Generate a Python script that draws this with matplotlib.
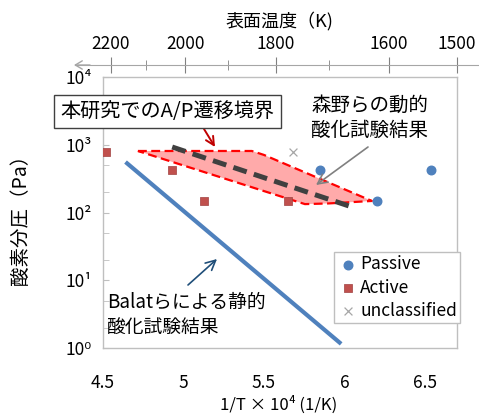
import matplotlib
matplotlib.use("Agg")
import matplotlib.pyplot as plt
import numpy as np

plt.rcParams['font.family'] = ['Noto Sans CJK JP', 'DejaVu Sans']

W, H = 479, 418

# ---- data ----
passive_x = [5.85, 6.20, 6.54]
passive_y = [420, 150, 420]
active_x = [4.52, 4.93, 5.13, 5.65]
active_y = [780, 420, 150, 150]
uncl_x = [5.68]
uncl_y = [780]
balat_x = [4.64, 5.98]
balat_y = [556, 1.15]
boundary_x = [4.93, 6.05]
boundary_y = [926, 120]
morino_x = [4.717, 5.425, 5.50, 6.171, 5.90, 5.755, 4.717]
morino_y = [809, 809, 708, 148, 136, 133, 809]
top_temps = [2200, 2000, 1800, 1600, 1500]
top_minor = [2100, 1900, 1700]
y_ticks = [1, 10, 100, 1000, 10000]
y_ticklabels = ['10⁰', '10¹', '10²', '10³', '10⁴']
x_ticks = [4.5, 5, 5.5, 6, 6.5]
x_ticklabels = ['4.5', '5', '5.5', '6', '6.5']

def fx(x):
    return x / W

def fy(y):
    return 1 - y / H

def fp(x, y):
    return (x, H - y)

fig = plt.figure(figsize=(W / 100, H / 100), dpi=100)
L, R, T, B = 103, 457, 77, 348
ax = fig.add_axes([fx(L), fy(B), (R - L) / W, (B - T) / H])
ax.set_xlim(4.5, 6.7)
ax.set_yscale('log')
ax.set_ylim(1, 10000)

grey = '#BFBFBF'
for s in ax.spines.values():
    s.set_color(grey)
    s.set_linewidth(1.0)

ax.set_xticks(x_ticks)
ax.set_xticklabels(x_ticklabels, fontsize=12.5)
ax.tick_params(axis='x', length=0, pad=19)
ax.set_yticks(y_ticks)
ax.set_yticklabels(y_ticklabels, fontsize=12.5)
ax.yaxis.set_minor_locator(matplotlib.ticker.LogLocator(base=10, subs=[2, 5]))
ax.yaxis.set_minor_formatter(matplotlib.ticker.NullFormatter())
ax.tick_params(axis='y', which='both', direction='in', length=4, color=grey, pad=8)

# Morino region
ax.fill(morino_x, morino_y, facecolor='#FFAAAA', edgecolor='none', zorder=1)
ax.plot(morino_x, morino_y, color='#FF0000', lw=1.6, dashes=(4, 2), zorder=2)
# boundary of this study
ax.plot(boundary_x, boundary_y, color='#404040', lw=3.6, dashes=(2.8, 1.5), zorder=3)
# Balat line
ax.plot(balat_x, balat_y, color='#4F81BD', lw=3.0, solid_capstyle='butt', zorder=3)

ax.scatter(passive_x, passive_y, s=38, marker='o', color='#4F81BD', zorder=4, label='Passive')
ax.scatter(active_x, active_y, s=38, marker='s', color='#C0504D', edgecolor='#A04040',
           linewidth=0.5, zorder=4, label='Active')
ax.scatter(uncl_x, uncl_y, s=32, marker='x', color='#A6A6A6', linewidth=0.9, zorder=4,
           label='unclassified')

leg = ax.legend(loc='upper left', bbox_to_anchor=(fx(334), fy(252)),
                bbox_transform=fig.transFigure, fontsize=12.5, frameon=True,
                fancybox=False, edgecolor=grey, framealpha=1, handletextpad=0.1,
                handlelength=1.2, labelspacing=0.3, borderpad=0.2, borderaxespad=0)
leg.get_frame().set_linewidth(1.0)

# top temperature axis
axt = fig.add_axes([fx(75), fy(65), (479 - 75) / W, 0.0001])
slope = (457 - 111) / (1e4 / 1500 - 1e4 / 2200)
x0 = 1e4 / 2200 + (75 - 111) / slope
x1 = 1e4 / 2200 + (479 - 111) / slope
axt.set_xlim(x0, x1)
axt.set_yticks([])
for k in ['left', 'right', 'bottom']:
    axt.spines[k].set_visible(False)
axt.spines['top'].set_color('#A6A6A6')
axt.patch.set_visible(False)
axt.xaxis.set_ticks_position('top')
axt.set_xticks([1e4 / t for t in top_temps])
axt.set_xticklabels([str(t) for t in top_temps], fontsize=12.5)
axt.set_xticks([1e4 / t for t in top_minor], minor=True)
axt.tick_params(axis='x', which='major', direction='inout', length=11, color='#808080', pad=3)
axt.tick_params(axis='x', which='minor', direction='inout', length=7, color='#808080')

def arrow(p0, p1, color, lw, hl, hw):
    ax.annotate('', xy=fp(*p1), xytext=fp(*p0), xycoords='figure pixels',
                textcoords='figure pixels', annotation_clip=False, zorder=20,
                arrowprops=dict(arrowstyle='->,head_length=%g,head_width=%g' % (hl, hw),
                                color=color, lw=lw, shrinkA=0, shrinkB=0))

arrow((90, 65), (74, 65), '#A6A6A6', 1.0, 0.5, 0.3)

# axis titles
fig.text(fx(279), fy(21), '表面温度（K)', fontsize=13, ha='center', va='center')
fig.text(fx(279), fy(405), '1/T × 10⁴ (1/K)', fontsize=12, ha='center', va='center')
fig.text(fx(20), fy(215), '酸素分圧（Pa）', fontsize=14, ha='center', va='center', rotation=90)

# annotations
fig.text(fx(167.5), fy(111.5), '本研究でのA/P遷移境界', fontsize=14.5, ha='center', va='center',
         bbox=dict(boxstyle='square,pad=0.3', facecolor='white', edgecolor='#404040', lw=1.0),
         zorder=10)
arrow((204, 129), (215, 147), '#C00000', 1.4, 0.6, 0.3)

fig.text(fx(311), fy(118), '森野らの動的\n酸化試験結果', fontsize=14, ha='left', va='center',
         linespacing=1.3)
arrow((368, 147), (316, 185), '#808080', 1.2, 0.7, 0.35)

fig.text(fx(107), fy(315), 'Balatらによる静的\n酸化試験結果', fontsize=13.5, ha='left', va='center',
         linespacing=1.3)
arrow((188, 285), (217, 259), '#1F4E79', 1.2, 0.7, 0.35)

fig.savefig('out.png', dpi=100)
